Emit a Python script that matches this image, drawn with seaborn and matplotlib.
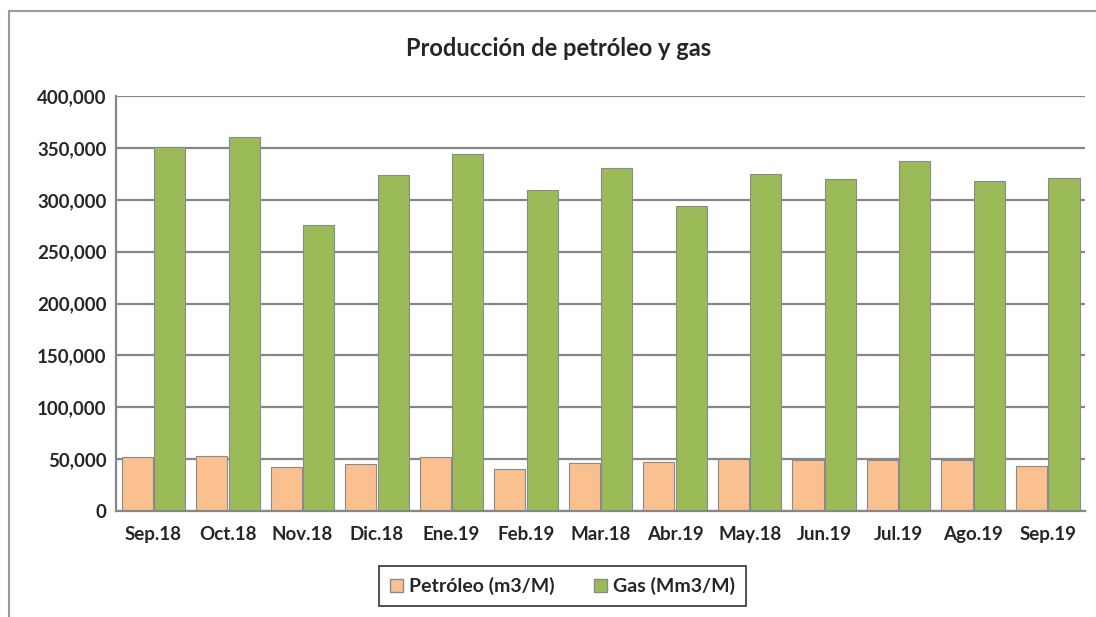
import pandas as pd
import matplotlib.pyplot as plt
import matplotlib.ticker as mticker
from matplotlib.patches import Rectangle
import seaborn as sns

meses = ['Sep.18', 'Oct.18', 'Nov.18', 'Dic.18', 'Ene.19', 'Feb.19', 'Mar.18',
         'Abr.19', 'May.18', 'Jun.19', 'Jul.19', 'Ago.19', 'Sep.19']
petroleo = [51500, 53000, 42500, 45700, 52000, 40000, 46400,
            47600, 50000, 49300, 49300, 49300, 43500]
gas = [351000, 361000, 276000, 324000, 344000, 310000, 331000,
       294000, 325000, 320000, 338000, 318000, 321000]
series = ['Petróleo (m3/M)', 'Gas (Mm3/M)']
colores = ['#FAC090', '#9BBB59']

df = pd.DataFrame({'mes': meses * 2,
                   'serie': [series[0]] * len(meses) + [series[1]] * len(meses),
                   'valor': petroleo + gas})

sns.set_style('white')
plt.rcParams['font.family'] = ['Lato', 'DejaVu Sans']

fig = plt.figure(figsize=(10.96, 6.17), dpi=100)
ax = fig.add_axes([0.106, 0.172, 0.884, 0.672])

sns.barplot(data=df, x='mes', y='valor', hue='serie', order=meses,
            palette=colores, saturation=1, width=0.87, gap=0.04,
            edgecolor='#8a8a8a', linewidth=0.8, ax=ax, legend=True)

ax.set_ylim(0, 400000)
ax.yaxis.set_major_locator(mticker.MultipleLocator(50000))
ax.yaxis.set_major_formatter(mticker.FuncFormatter(lambda v, p: f'{int(v):,}'))
ax.grid(axis='y', color='#878787', linewidth=1.6)
ax.set_axisbelow(True)
for s in ['top', 'right']:
    ax.spines[s].set_visible(False)
for s in ['left', 'bottom']:
    ax.spines[s].set_color('#878787')
    ax.spines[s].set_linewidth(1.6)
ax.set_xlabel('')
ax.set_ylabel('')
ax.tick_params(axis='both', length=0, labelsize=13.5)
ax.tick_params(axis='x', pad=11)
ax.tick_params(axis='y', pad=7)
for lab in ax.get_xticklabels() + ax.get_yticklabels():
    lab.set_fontweight('bold')

fig.text(0.51, 0.922, 'Producción de petróleo y gas', ha='center', va='center',
         fontsize=17, fontweight='bold')

ax.legend_.remove()
handles = [Rectangle((0, 0), 1, 1, facecolor=c, edgecolor='#8a8a8a') for c in colores]
leg = fig.legend(handles, series, loc='center', bbox_to_anchor=(0.513, 0.05), ncol=2,
                 frameon=True, fancybox=False, edgecolor='black', handlelength=0.7,
                 handleheight=0.7, handletextpad=0.3, columnspacing=2.0,
                 prop={'weight': 'bold', 'size': 14}, borderpad=0.55)
leg.get_frame().set_linewidth(1.2)

fig.patches.append(Rectangle((9 / 1096, -0.05), 1.2, 1 - 11 / 617 + 0.05,
                             transform=fig.transFigure, fill=False,
                             edgecolor='#9a9a9a', linewidth=1.5))

fig.savefig('out.png', dpi=100)
